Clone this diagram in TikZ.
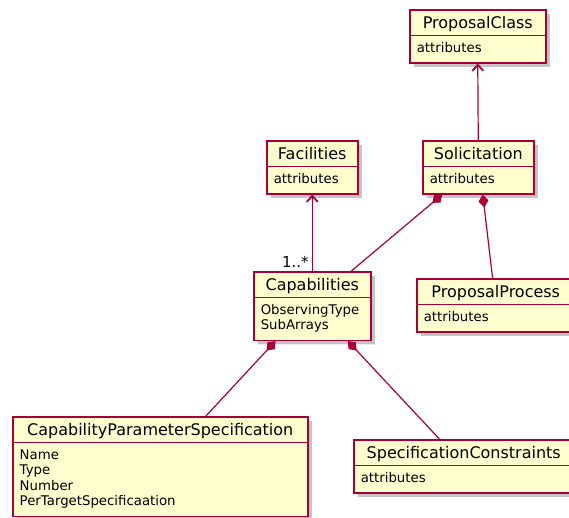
\documentclass[tikz,border=0pt]{standalone}
\usepackage{fontspec}
\setmainfont{DejaVu Sans}
\usetikzlibrary{shapes.multipart,shadows,arrows.meta,calc}

\definecolor{umlborder}{HTML}{A80036}
\definecolor{umlfill}{HTML}{FEFECE}

% title and attribute compartments
\newcommand{\clstitle}[1]{\rule[-6pt]{0pt}{24pt}#1}
\newcommand{\clsattrs}[1]{{\fontsize{13.3}{15.5}\selectfont
  \begin{tabular}{@{}l@{}}\rule{0pt}{16pt}#1\rule[-10pt]{0pt}{10pt}\end{tabular}}}

\tikzset{
  umlclass/.style={rectangle split, rectangle split parts=2,
    rectangle split part align={center,left},
    draw=umlborder, fill=umlfill, line width=1.5pt,
    inner ysep=0pt, inner xsep=7pt, anchor=north west,
    font=\fontsize{16}{18}\selectfont,
    drop shadow={shadow xshift=4pt, shadow yshift=-4pt, fill=black!45, opacity=.5}},
  umlline/.style={draw=umlborder, line width=1.2pt},
  inherit/.style={umlline, -{Straight Barb[length=6pt,width=11pt,line width=1.8pt]}},
  compose/.style={umlline, {Diamond[length=13pt,width=10pt]}-}
}

\begin{document}
\begin{tikzpicture}[x=1pt,y=-1pt]

  \useasboundingbox (0,0) rectangle (569,517);

  \node[umlclass, minimum width=136pt] (propclass) at (409,9)
    {\clstitle{ProposalClass}\nodepart{two}\clsattrs{attributes}};
  \node[umlclass, minimum width=91pt] (facilities) at (266,140)
    {\clstitle{Facilities}\nodepart{two}\clsattrs{attributes}};
  \node[umlclass, minimum width=111pt] (solicitation) at (422,140)
    {\clstitle{Solicitation}\nodepart{two}\clsattrs{attributes}};
  \node[umlclass, minimum width=117pt] (capabilities) at (253,271)
    {\clstitle{Capabilities}\nodepart{two}\clsattrs{ObservingType\\SubArrays}};
  \node[umlclass, minimum width=158pt] (propprocess) at (416,278)
    {\clstitle{ProposalProcess}\nodepart{two}\clsattrs{attributes}};
  \node[umlclass, minimum width=295pt] (capparamspec) at (12,416)
    {\clstitle{CapabilityParameterSpecification}\nodepart{two}%
     \clsattrs{Name\\Type\\Number\\PerTargetSpecificaation}};
  \node[umlclass, minimum width=220pt] (specconstr) at (353,439)
    {\clstitle{SpecificationConstraints}\nodepart{two}\clsattrs{attributes}};

  % generalisations
  \draw[inherit] (solicitation.north) -- (propclass.south);
  \draw[inherit] (capabilities.north) --
    node[pos=0, above left, inner sep=3pt, font=\fontsize{15}{17}\selectfont] {1..*}
    (facilities.south);

  % compositions
  \draw[compose] ($(solicitation.south west)!0.18!(solicitation.south east)$) --
    ($(capabilities.north west)!0.83!(capabilities.north east)$);
  \draw[compose] ($(solicitation.south west)!0.54!(solicitation.south east)$) --
    ($(propprocess.north west)!0.48!(propprocess.north east)$);
  \draw[compose] ($(capabilities.south west)!0.19!(capabilities.south east)$) --
    ($(capparamspec.north west)!0.654!(capparamspec.north east)$);
  \draw[compose] ($(capabilities.south west)!0.80!(capabilities.south east)$) --
    ($(specconstr.north west)!0.39!(specconstr.north east)$);

\end{tikzpicture}
\end{document}
